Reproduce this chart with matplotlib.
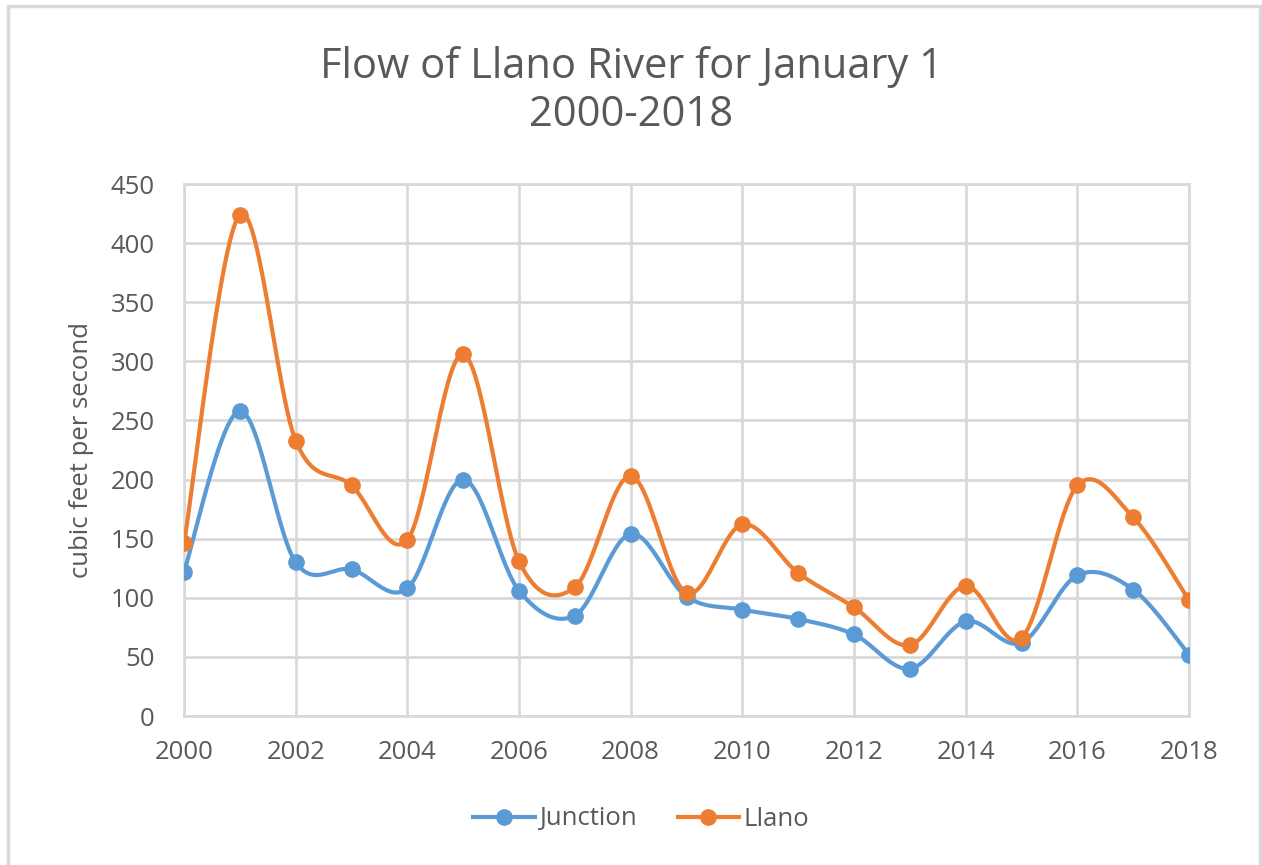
import matplotlib
matplotlib.use("Agg")
import matplotlib.pyplot as plt
import numpy as np

years = list(range(2000, 2019))
junction = [122, 258, 130, 124, 108, 200, 106, 85, 154, 101, 90, 82, 69, 40, 80, 62, 119, 107, 52]
llano = [146, 424, 233, 195, 149, 306, 131, 109, 203, 104, 162, 121, 92, 60, 110, 66, 195, 168, 98]

BLUE = "#5B9BD5"
ORANGE = "#ED7D31"
TEXT = "#595959"
GRID = "#D9D9D9"

plt.rcParams["font.family"] = ["Open Sans", "DejaVu Sans"]


def smooth(x, y, n=30):
    # Excel-like smoothed line: cubic Bezier with Catmull-Rom control points
    x = np.asarray(x, float)
    y = np.asarray(y, float)
    xs, ys = [], []
    for i in range(len(x) - 1):
        i0 = max(i - 1, 0)
        i3 = min(i + 2, len(x) - 1)
        p0 = np.array([x[i], y[i]])
        p3 = np.array([x[i + 1], y[i + 1]])
        c1 = p0 + (p3 - np.array([x[i0], y[i0]])) / 6.0
        c2 = p3 - (np.array([x[i3], y[i3]]) - p0) / 6.0
        t = np.linspace(0, 1, n)[:, None]
        pts = ((1 - t) ** 3) * p0 + 3 * ((1 - t) ** 2) * t * c1 + 3 * (1 - t) * t ** 2 * c2 + t ** 3 * p3
        xs.extend(pts[:, 0])
        ys.extend(pts[:, 1])
    return xs, ys


fig = plt.figure(figsize=(12.62, 8.65), dpi=100)
ax = fig.add_axes([184 / 1262, 1 - 716 / 865, (1189 - 184) / 1262, (716 - 184) / 865])

for vals, color, name in [(junction, BLUE, "Junction"), (llano, ORANGE, "Llano")]:
    sx, sy = smooth(years, vals)
    ax.plot(sx, sy, color=color, lw=3, solid_capstyle="round", zorder=3)
    ax.plot(years, vals, "o", color=color, ms=11, zorder=4)
    ax.plot([], [], "-o", color=color, lw=3, ms=11, label=name)

ax.set_xlim(2000, 2018)
ax.set_ylim(0, 450)
ax.set_xticks(range(2000, 2019, 2))
ax.set_yticks(range(0, 451, 50))
ax.grid(True, color=GRID, lw=2)
ax.set_axisbelow(True)
for s in ax.spines.values():
    s.set_color(GRID)
    s.set_linewidth(2)
ax.tick_params(length=0, labelsize=18.5, colors=TEXT)
ax.tick_params(axis="x", pad=17)
ax.tick_params(axis="y", pad=21)
for lab in ax.get_yticklabels():
    lab.set_horizontalalignment("right")

ax.set_ylabel("cubic feet per second", fontsize=18.5, color=TEXT, labelpad=12)

fig.text(0.5, 1 - 91 / 865, "Flow of Llano River for January 1\n2000-2018", ha="center", va="center",
         fontsize=30, color=TEXT, linespacing=1.2)

fig.legend(loc="center", bbox_to_anchor=(641 / 1262, 1 - 819 / 865), ncol=2, frameon=False,
           fontsize=18.5, labelcolor=TEXT, handlelength=2.4, handletextpad=0.15, columnspacing=1.6)

# outer chart border
border = plt.Rectangle((8 / 1262, -0.1), (1260 - 8) / 1262, 1.1 - 6 / 865, transform=fig.transFigure,
                       fill=False, edgecolor=GRID, lw=2.5)
fig.add_artist(border)

fig.savefig("out.png", dpi=100)
